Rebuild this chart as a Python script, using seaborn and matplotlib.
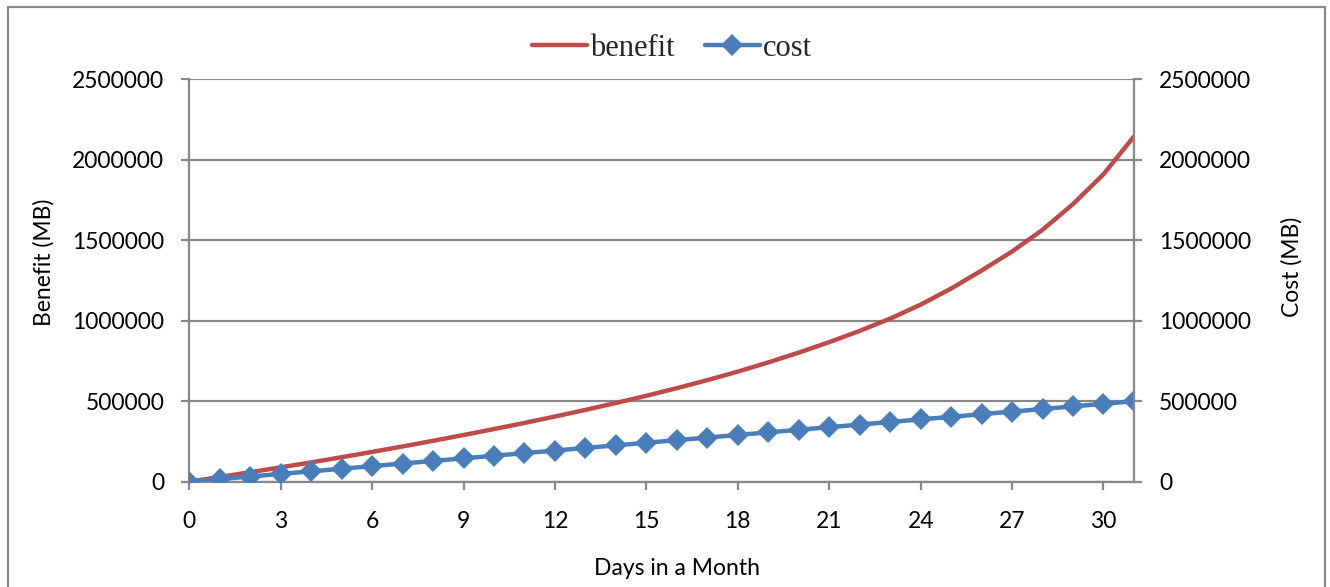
import matplotlib
matplotlib.use("Agg")
import matplotlib.pyplot as plt
from matplotlib.patches import Rectangle
import seaborn as sns
import pandas as pd

# Daily series (MB)
days = list(range(32))
benefit = [0, 29000, 59000, 89000, 120000, 152000, 185000, 219000, 254000, 290000,
           327000, 365000, 405000, 446000, 489000, 534000, 581000, 631000, 684000,
           741000, 802000, 867000, 937000, 1013000, 1100000, 1200000, 1312000,
           1430000, 1565000, 1725000, 1910000, 2145000]
cost = [0, 16129, 32258, 48387, 64516, 80645, 96774, 112903, 129032, 145161,
        161290, 177419, 193548, 209677, 225806, 241935, 258065, 274194, 290323,
        306452, 322581, 338710, 354839, 370968, 387097, 403226, 419355, 435484,
        451613, 467742, 483871, 500000]
x_ticks = list(range(0, 31, 3))
y_ticks = [0, 500000, 1000000, 1500000, 2000000, 2500000]

df = pd.DataFrame({"day": days, "benefit": benefit, "cost": cost})

sns.set_theme(style="white")
plt.rcParams["font.family"] = ["Lato", "DejaVu Sans"]

RED = "#BE4B48"
BLUE = "#4A7EBB"
GRID = "#888888"
TICK_FS = 16.5

fig = plt.figure(figsize=(13.3, 5.87), dpi=100)
ax = fig.add_axes([0.1423, 0.1794, 0.7103, 0.6855])
ax2 = ax.twinx()

sns.lineplot(data=df, x="day", y="benefit", ax=ax, color=RED, linewidth=3.2,
             label="benefit", legend=False, solid_capstyle="round")
sns.lineplot(data=df, x="day", y="cost", ax=ax2, color=BLUE, linewidth=3.2,
             marker="D", markersize=11, markeredgewidth=0, label="cost",
             legend=False, solid_capstyle="round")

for a in (ax, ax2):
    a.set_xlim(0, 31)
    a.set_ylim(0, 2500000)
    a.set_yticks(y_ticks)
    a.set_yticklabels([str(v) for v in y_ticks], fontsize=TICK_FS)
    for side in ("top", "left", "right", "bottom"):
        a.spines[side].set_visible(False)

ax.set_xticks(x_ticks)
ax.set_xticklabels([str(v) for v in x_ticks], fontsize=TICK_FS)

ax.yaxis.grid(True, color=GRID, linewidth=1.6)
ax.set_axisbelow(True)
ax.spines["left"].set_visible(True)
ax.spines["bottom"].set_visible(True)
ax2.spines["right"].set_visible(True)
for sp in (ax.spines["left"], ax.spines["bottom"], ax2.spines["right"]):
    sp.set_color(GRID)
    sp.set_linewidth(1.6)

ax.tick_params(axis="both", which="major", direction="out", length=6, width=1.6,
               color=GRID, labelcolor="black")
ax.tick_params(axis="x", pad=15, bottom=True)
ax.tick_params(axis="y", left=True, pad=12)
ax2.tick_params(axis="y", right=True, direction="out", length=6, width=1.6,
                color=GRID, labelcolor="black", pad=12)

ax.set_xlabel("Days in a Month", fontsize=TICK_FS, color="black")
ax.set_ylabel("Benefit (MB)", fontsize=TICK_FS, color="black")
ax2.set_ylabel("Cost (MB)", fontsize=TICK_FS, color="black")
ax.xaxis.set_label_coords(0.516, -0.19)
ax.yaxis.set_label_coords(-0.143, 0.546)
ax2.yaxis.set_label_coords(1.1555, 0.535)

h1, l1 = ax.get_legend_handles_labels()
h2, l2 = ax2.get_legend_handles_labels()
fig.legend(h1 + h2, l1 + l2, loc="center", bbox_to_anchor=(0.505, 0.918),
           ncol=2, frameon=False, handlelength=1.8, handletextpad=0.1,
           columnspacing=1.0,
           prop={"family": "Liberation Serif", "size": 22})

# chart-area border
fig.patches.append(Rectangle((8 / 1330, -0.05), (1325 - 8) / 1330, 1 - 7 / 587 + 0.05,
                             transform=fig.transFigure, fill=False,
                             edgecolor="#8A8A8A", linewidth=1.6))

fig.savefig("out.png", dpi=100)
